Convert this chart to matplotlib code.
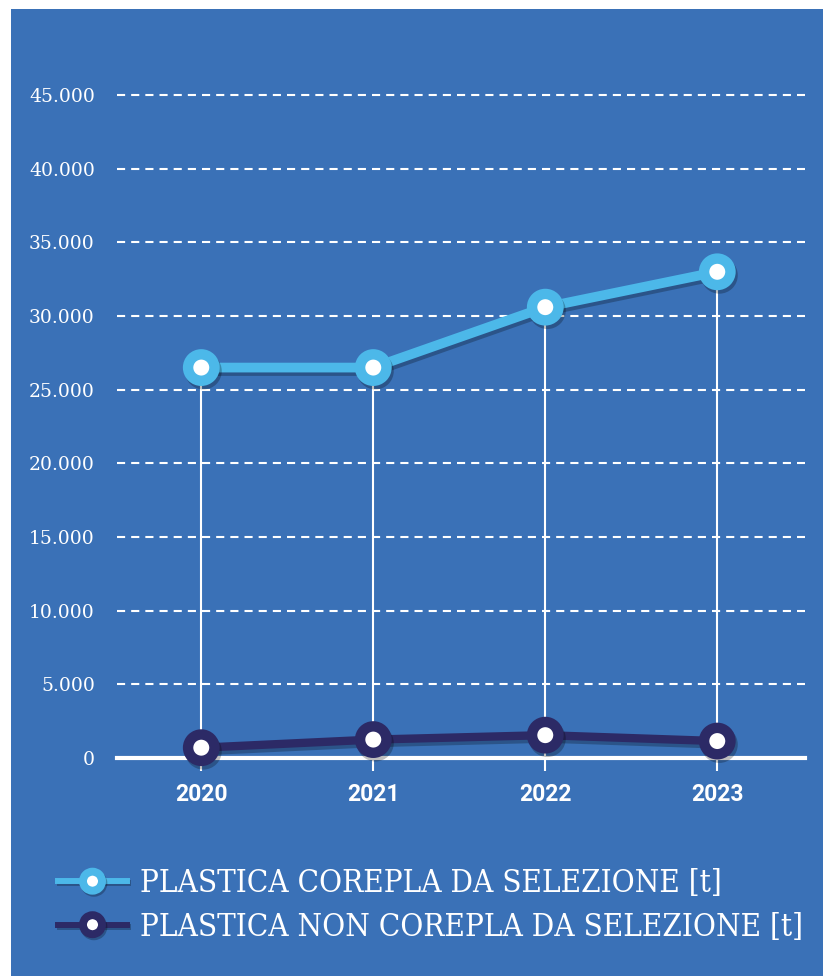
import matplotlib
matplotlib.use("Agg")
import matplotlib.pyplot as plt
import matplotlib.patheffects as pe
from matplotlib.lines import Line2D
from matplotlib.patches import Rectangle
from matplotlib.ticker import FuncFormatter

# data
years = ["2020", "2021", "2022", "2023"]
corepla = [26500, 26500, 30600, 33000]
non_corepla = [700, 1250, 1550, 1150]
labels = ["PLASTICA COREPLA DA SELEZIONE [t]", "PLASTICA NON COREPLA DA SELEZIONE [t]"]
y_ticks = [0, 5000, 10000, 15000, 20000, 25000, 30000, 35000, 40000, 45000]

BG = "#3a71b7"
LIGHT = "#4cb8e9"
DARK = "#2c2a66"

fig = plt.figure(figsize=(8.23, 9.76), dpi=100)
fig.patch.set_facecolor("white")
# blue panel (white strip at top and left like the original crop)
fig.patches.append(Rectangle((11 / 823, 0), 1, 1 - 9 / 976, transform=fig.transFigure,
                             facecolor=BG, edgecolor="none", zorder=-10))

ax = fig.add_axes([117 / 823, 1 - 758 / 976, (805 - 117) / 823, (758 - 95) / 976])
ax.set_facecolor("none")
ax.set_zorder(1)

x = list(range(len(years)))
shadow = [pe.SimpleLineShadow(offset=(1.5, -2.5), shadow_color="black", alpha=0.25), pe.Normal()]

# dashed grid
for v in y_ticks[1:]:
    ax.axhline(v, color="white", lw=1.5, linestyle=(0, (3.9, 2.9)), zorder=1, clip_on=False)

# vertical drop lines from the upper series to the axis
ax.vlines(x, 0, corepla, color="white", lw=1.5, zorder=2)

ax.plot(x, corepla, color=LIGHT, lw=7, marker="o", ms=19, mfc="white", mec=LIGHT, mew=7.5,
        solid_capstyle="round", path_effects=shadow, zorder=5, clip_on=False)
ax.plot(x, non_corepla, color=DARK, lw=6, marker="o", ms=19, mfc="white", mec=DARK, mew=7.5,
        solid_capstyle="round", path_effects=shadow, zorder=6, clip_on=False)

ax.set_xlim(-0.49, 3.51)
ax.set_ylim(0, 45000)
ax.set_yticks(y_ticks)
ax.yaxis.set_major_formatter(FuncFormatter(lambda v, p: f"{v:,.0f}".replace(",", ".")))
ax.set_xticks(x)
ax.set_xticklabels(years)

for s in ["top", "right", "left"]:
    ax.spines[s].set_visible(False)
ax.spines["bottom"].set_color("white")
ax.spines["bottom"].set_linewidth(3)
ax.spines["bottom"].set_zorder(4)
ax.spines["bottom"].set_path_effects([pe.SimplePatchShadow(offset=(1, -2), alpha=0.3), pe.Normal()])

ax.tick_params(axis="y", length=0, pad=16, labelcolor="white", labelsize=13.5)
ax.tick_params(axis="x", length=9, width=1.5, color="white", pad=9, labelcolor="white", labelsize=16.5)
for t in ax.get_yticklabels():
    t.set_family("DejaVu Serif")
for t in ax.get_xticklabels():
    t.set_family(["Roboto", "DejaVu Sans"])
    t.set_fontweight("bold")

# legend
leg_shadow = [pe.SimpleLineShadow(offset=(1, -1.5), alpha=0.25), pe.Normal()]
handles = [
    Line2D([], [], color=LIGHT, lw=4.3, marker="o", ms=13.7, mfc="white", mec=LIGHT, mew=5.7, path_effects=leg_shadow),
    Line2D([], [], color=DARK, lw=4.3, marker="o", ms=13.7, mfc="white", mec=DARK, mew=5.7, path_effects=leg_shadow),
]
leg = fig.legend(handles, labels, loc="upper left", bbox_to_anchor=(30 / 823, 1 - 840 / 976),
                 frameon=False, handlelength=2.2, handletextpad=0.42, labelspacing=0.4,
                 prop={"family": "DejaVu Serif", "stretch": "condensed", "size": 22.5})
for t in leg.get_texts():
    t.set_color("white")

fig.savefig("out.png", dpi=100, facecolor=fig.get_facecolor())
